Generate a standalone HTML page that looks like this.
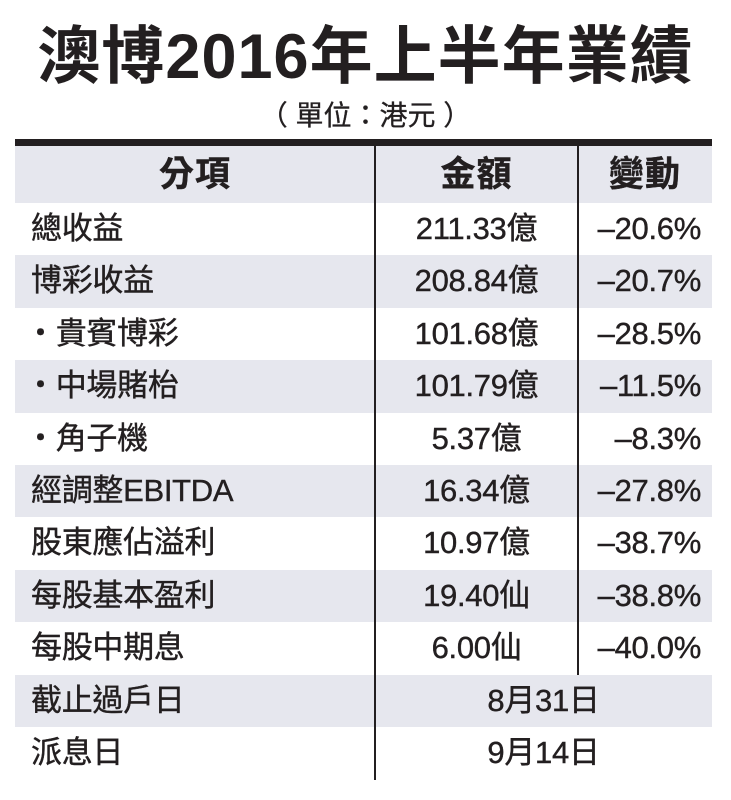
<!DOCTYPE html>
<html><head><meta charset="utf-8"><style>
body{margin:0;width:731px;height:800px;background:#fff;position:relative;overflow:hidden;font-family:"Liberation Sans","Noto Sans CJK TC",sans-serif;color:#231f20}
.t{position:absolute;white-space:nowrap}
#title{left:0;width:731px;top:18px;text-align:center;font-size:63px;font-weight:bold;line-height:78px;letter-spacing:1px}
#sub{left:0;width:731px;top:98px;text-align:center;font-size:28px;line-height:36px;-webkit-text-stroke:0.3px #231f20}
.row{position:absolute;left:15px;width:697px}
.c{position:absolute;top:0;font-size:31px;white-space:nowrap;-webkit-text-stroke:0.4px #231f20;letter-spacing:-0.3px}
.vl{position:absolute;width:2px;background:#231f20}
</style></head><body>
<div class="t" id="title">澳博2016年上半年業績</div>
<div class="t" id="sub">（ 單位：港元 ）</div>
<div style="position:absolute;left:15px;width:697px;top:139px;height:7px;background:#231f20"></div>
<div id="tbl"></div>
<script>
const items=["總收益","博彩收益","・貴賓博彩","・中場賭枱","・角子機","經調整EBITDA","股東應佔溢利","每股基本盈利","每股中期息","截止過戶日","派息日"];
const amounts=["211.33億","208.84億","101.68億","101.79億","5.37億","16.34億","10.97億","19.40仙","6.00仙","8月31日","9月14日"];
const changes=["–20.6%","–20.7%","–28.5%","–11.5%","–8.3%","–27.8%","–38.7%","–38.8%","–40.0%","",""];
const tbl=document.getElementById('tbl');
const rowTop=203,rowH=52.4;
function mk(top,h,bg){const d=document.createElement('div');d.className='row';d.style.top=top+'px';d.style.height=h+'px';d.style.background=bg;d.style.lineHeight=h+'px';tbl.appendChild(d);return d;}
function cell(parent,text,left,width,align,bold){const c=document.createElement('div');c.className='c';c.style.left=left+'px';c.style.width=width+'px';c.style.textAlign=align;c.style.lineHeight=parent.style.height;if(bold){c.style.fontWeight='bold';c.style.fontSize='35px';c.style.letterSpacing='1px';}c.textContent=text;parent.appendChild(c);return c;}
const hdr=mk(146,57,'#e6e7ee');


let h1=cell(hdr,'分項',0,360,'center',true);


let h2=cell(hdr,'金額',360,203,'center',true);


let h3=cell(hdr,'變動',563,134,'center',true);


items.forEach((it,i)=>{
  const r=mk(rowTop+i*rowH,rowH,i%2===1?'#e6e7ee':'#fff');
  
  
  const a=cell(r,it,it.startsWith('・')?10:16,350,'left');
  
  
  if(changes[i]===''){
    const b=cell(r,amounts[i],360,337,'center');
    
    
  }else{
    const b=cell(r,amounts[i],360,203,'center');
    
    
    const c=cell(r,changes[i],563,123,'right');
    
    
  }
});
const v1=document.createElement('div');v1.className='vl';v1.style.left='374px';v1.style.top='146px';v1.style.height='634px';


document.body.appendChild(v1);
const v2=document.createElement('div');v2.className='vl';v2.style.left='577px';v2.style.top='146px';v2.style.height=(rowTop+9*rowH-146)+'px';


document.body.appendChild(v2);
</script>
</body></html>
